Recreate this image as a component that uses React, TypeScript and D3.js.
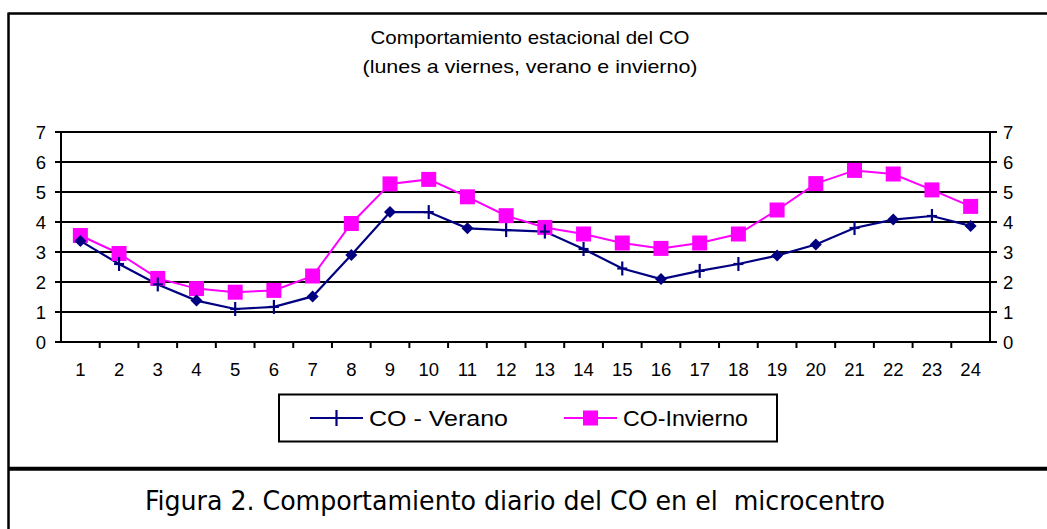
import React from "react";
import * as d3 from "d3";

const hours = ["1","2","3","4","5","6","7","8","9","10","11","12","13","14","15","16","17","18","19","20","21","22","23","24"];
const verano = [3.37,2.6,1.92,1.38,1.1,1.17,1.52,2.9,4.33,4.33,3.79,3.73,3.68,3.1,2.45,2.1,2.37,2.6,2.88,3.25,3.8,4.08,4.2,3.87];
const invierno = [3.55,2.95,2.12,1.78,1.66,1.72,2.2,3.95,5.27,5.42,4.84,4.21,3.82,3.6,3.3,3.12,3.3,3.6,4.4,5.28,5.72,5.6,5.07,4.52];
const veranoMarkers = ["D","+","+","D","+","+","D","D","D","+","D","+","+","+","+","D","+","+","D","D","+","D","+","D"];
const yTicks = [0,1,2,3,4,5,6,7];
const titleLines = ["Comportamiento estacional del CO","(lunes a viernes, verano e invierno)"];
const seriesNames = ["CO - Verano","CO-Invierno"];
const caption = "Figura 2. Comportamiento diario del CO en el  microcentro";

const NAVY = "#000080";
const MAG = "#ff00ff";

export default function App() {
  const W = 1047, H = 529;
  const left = 61, right = 990, top = 132, bottom = 342;
  const x = d3.scaleBand<string>().domain(hours).range([left, right]);
  const y = d3.scaleLinear().domain([0, 7]).range([bottom, top]);
  const cx = (h: string) => (x(h) as number) + x.bandwidth() / 2;
  const line = d3.line<number>().x((_, i) => cx(hours[i])).y((v) => y(v));
  const font = "'Liberation Sans', Arial, sans-serif";

  const diamond = (px: number, py: number, r = 6) =>
    `M${px},${py - r}L${px + r},${py}L${px},${py + r}L${px - r},${py}Z`;

  const titleLens = [319, 335];

  return (
    <svg width={W} height={H} style={{ position: "absolute", left: 0, top: 0, background: "#fff" }} fontFamily={font}>
      <rect x={0} y={0} width={W} height={H} fill="#fff" />
      {/* frame */}
      <line x1={8.5} x2={W} y1={13.5} y2={13.5} stroke="#000" strokeWidth={2.5} />
      <line x1={8.5} x2={8.5} y1={12.5} y2={H} stroke="#000" strokeWidth={2.5} />
      <line x1={8} x2={W} y1={468.7} y2={468.7} stroke="#000" strokeWidth={4} />

      {/* title */}
      {titleLines.map((t, i) => (
        <text key={i} x={530} y={44 + i * 29} textAnchor="middle" fontSize={18.5} fill="#000"
          textLength={titleLens[i]} lengthAdjust="spacingAndGlyphs">{t}</text>
      ))}

      {/* gridlines */}
      {yTicks.filter((t) => t > 0).map((t) => (
        <line key={t} x1={left} x2={right} y1={y(t)} y2={y(t)} stroke="#000" strokeWidth={2} />
      ))}
      {/* axes */}
      <line x1={left} x2={left} y1={top} y2={bottom + 1} stroke="#000" strokeWidth={2} />
      <line x1={right} x2={right} y1={top} y2={bottom + 1} stroke="#000" strokeWidth={2} />
      <line x1={left} x2={right} y1={bottom} y2={bottom} stroke="#000" strokeWidth={2} />
      {yTicks.map((t) => (
        <g key={t}>
          <line x1={left - 6} x2={left} y1={y(t)} y2={y(t)} stroke="#000" strokeWidth={2} />
          <line x1={right} x2={right + 7} y1={y(t)} y2={y(t)} stroke="#000" strokeWidth={2} />
          <text x={46} y={y(t) + 6.5} textAnchor="end" fontSize={18.5} fill="#000">{t}</text>
          <text x={1003} y={y(t) + 6.5} textAnchor="start" fontSize={18.5} fill="#000">{t}</text>
        </g>
      ))}
      {hours.map((h, i) => (
        <g key={h}>
          {i > 0 && (
            <line x1={x(h) as number} x2={x(h) as number} y1={bottom} y2={bottom + 6} stroke="#000" strokeWidth={2} />
          )}
          <text x={cx(h)} y={376} textAnchor="middle" fontSize={18.5} fill="#000">{h}</text>
        </g>
      ))}

      {/* series */}
      <path d={line(invierno) || ""} fill="none" stroke={MAG} strokeWidth={2} />
      <path d={line(verano) || ""} fill="none" stroke={NAVY} strokeWidth={2.2} />
      {invierno.map((v, i) => (
        <rect key={i} x={cx(hours[i]) - 7.5} y={y(v) - 7.5} width={15} height={15} fill={MAG} />
      ))}
      {verano.map((v, i) => {
        const px = cx(hours[i]), py = y(v);
        return veranoMarkers[i] === "D" ? (
          <path key={i} d={diamond(px, py)} fill={NAVY} />
        ) : (
          <g key={i} stroke={NAVY} strokeWidth={2.2}>
            <line x1={px} x2={px} y1={py - 7} y2={py + 7} />
            <line x1={px - 5} x2={px + 5} y1={py} y2={py} />
          </g>
        );
      })}

      {/* legend */}
      <rect x={279} y={394.5} width={498} height={47} fill="#fff" stroke="#000" strokeWidth={2} />
      <line x1={310} x2={363} y1={418} y2={418} stroke={NAVY} strokeWidth={2.2} />
      <line x1={336.5} x2={336.5} y1={410} y2={426} stroke={NAVY} strokeWidth={2.2} />
      <text x={369} y={426} fontSize={22.5} fill="#000" textLength={139} lengthAdjust="spacingAndGlyphs">{seriesNames[0]}</text>
      <line x1={564} x2={617} y1={418} y2={418} stroke={MAG} strokeWidth={2} />
      <rect x={583} y={410.5} width={15} height={15} fill={MAG} />
      <text x={623} y={426} fontSize={22.5} fill="#000" textLength={125} lengthAdjust="spacingAndGlyphs">{seriesNames[1]}</text>

      {/* caption */}
      <text x={145} y={510} fontSize={27} fill="#000" fontFamily="'DejaVu Sans Condensed', 'DejaVu Sans', sans-serif"
        style={{ whiteSpace: "pre" }} textLength={740} lengthAdjust="spacingAndGlyphs">{caption}</text>
    </svg>
  );
}
